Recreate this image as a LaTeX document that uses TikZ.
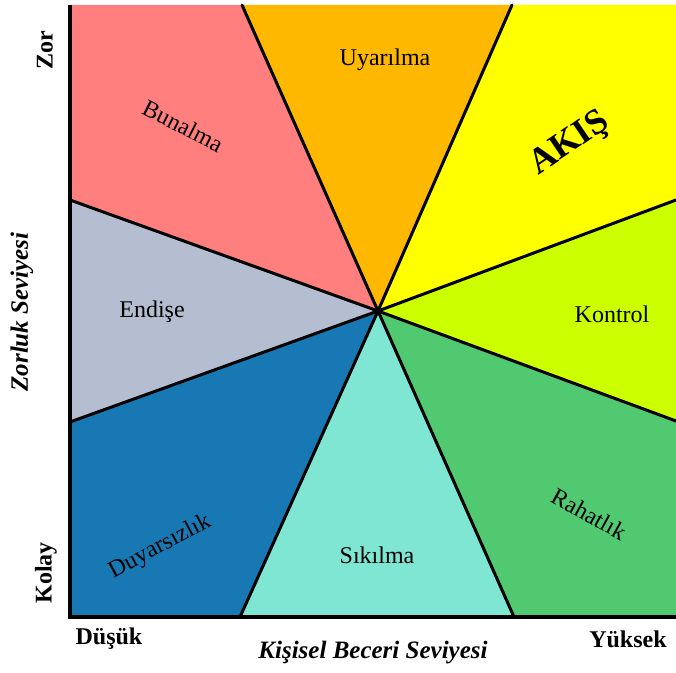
\documentclass[tikz,border=0pt]{standalone}
\usepackage{fontspec}
\setmainfont{Liberation Serif}
\usepackage{xcolor}
\usepackage{tikz}
\usetikzlibrary{calc}

\definecolor{cBunalma}{RGB}{255,127,127}
\definecolor{cUyarilma}{RGB}{255,184,0}
\definecolor{cAkis}{RGB}{255,255,0}
\definecolor{cKontrol}{RGB}{204,255,0}
\definecolor{cRahatlik}{RGB}{80,201,112}
\definecolor{cSikilma}{RGB}{128,230,212}
\definecolor{cDuyarsiz}{RGB}{24,120,180}
\definecolor{cEndise}{RGB}{181,190,208}

\begin{document}
\begin{tikzpicture}[
    x=0.5pt, y=-0.5pt,
    divider/.style={line width=1.5pt, line cap=round},
    axisline/.style={line width=1.6pt},
    zone/.style={font=\fontsize{12}{14}\selectfont, inner sep=1pt},
    endlabel/.style={font=\fontsize{12}{14}\selectfont\bfseries, inner sep=1pt},
    axistitle/.style={font=\fontsize{12.5}{15}\selectfont\bfseries\itshape, inner sep=1pt},
]
\useasboundingbox (0,0) rectangle (676,673);

\coordinate (o)  at (378,311);
\coordinate (tl) at (70,5);
\coordinate (tr) at (676,5);
\coordinate (br) at (676,617);
\coordinate (bl) at (70,617);
\coordinate (pl1) at (70,200);
\coordinate (pl2) at (70,422);
\coordinate (pt1) at (242,5);
\coordinate (pt2) at (512,5);
\coordinate (pr1) at (676,200);
\coordinate (pr2) at (676,421);
\coordinate (pb1) at (240,617);
\coordinate (pb2) at (514,617);

\fill[cBunalma]  (o) -- (pl1) -- (tl) -- (pt1) -- cycle;
\fill[cUyarilma] (o) -- (pt1) -- (pt2) -- cycle;
\fill[cAkis]     (o) -- (pt2) -- (tr) -- (pr1) -- cycle;
\fill[cKontrol]  (o) -- (pr1) -- (pr2) -- cycle;
\fill[cRahatlik] (o) -- (pr2) -- (br) -- (pb2) -- cycle;
\fill[cSikilma]  (o) -- (pb2) -- (pb1) -- cycle;
\fill[cDuyarsiz] (o) -- (pb1) -- (bl) -- (pl2) -- cycle;
\fill[cEndise]   (o) -- (pl2) -- (pl1) -- cycle;

\foreach \p in {pl1,pl2,pt1,pt2,pr1,pr2,pb1,pb2}
    \draw[divider] (o) -- (\p);

\draw[axisline] (tl) -- (bl) -- (br);

\node[zone] (uyarilma) at (385,60) {Uyarılma};
\node[zone, rotate=-27] (bunalma) at (183,126) {Bunalma};
\node[zone, font=\fontsize{18}{20}\selectfont\bfseries, rotate=34] (akis) at (570,144) {AKIŞ};
\node[zone] (endise) at (152,312) {Endişe};
\node[zone] (kontrol) at (612,314) {Kontrol};
\node[zone, rotate=28] (duyarsiz) at (160,547) {Duyarsızlık};
\node[zone] (sikilma) at (377,555) {Sıkılma};
\node[zone, rotate=-29] (rahatlik) at (589,514) {Rahatlık};

\node[endlabel, rotate=90] (zor) at (45,50) {Zor};
\node[endlabel, rotate=90] (kolay) at (46,573) {Kolay};
\node[endlabel] (dusuk) at (109,639) {Düşük};
\node[endlabel] (yuksek) at (628,639) {Yüksek};
\node[axistitle, rotate=90] (zorluk) at (22,312) {Zorluk Seviyesi};
\node[axistitle] (beceri) at (373,653) {Kişisel Beceri Seviyesi};
\end{tikzpicture}
\end{document}
